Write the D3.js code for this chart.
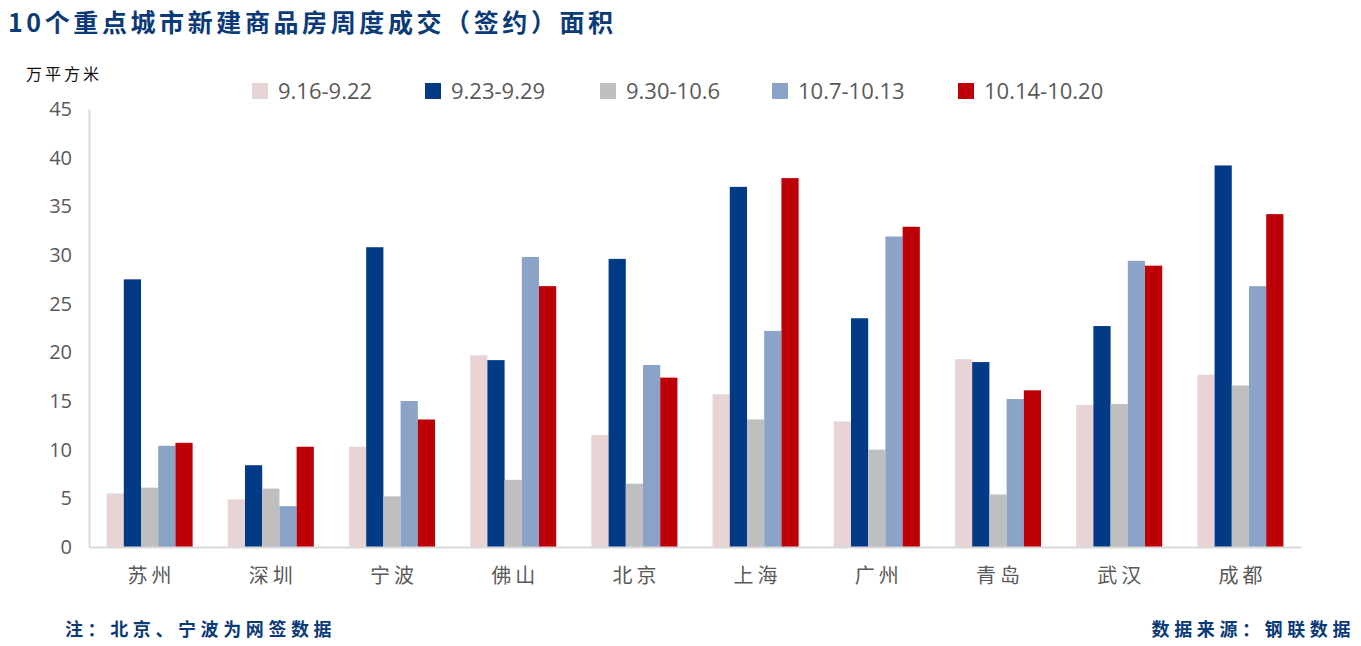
<!DOCTYPE html>
<html><head><meta charset="utf-8">
<script src="https://cdn.jsdelivr.net/npm/d3@7"></script>
<style>body{margin:0;background:#fff;}svg{display:block;}</style>
</head><body>
<svg id="c" width="1361" height="646"></svg>
<script>
const categories = ["苏州","深圳","宁波","佛山","北京","上海","广州","青岛","武汉","成都"];
const seriesNames = ["9.16-9.22","9.23-9.29","9.30-10.6","10.7-10.13","10.14-10.20"];
const s1 = [5.5, 4.9, 10.3, 19.7, 11.5, 15.7, 12.9, 19.3, 14.6, 17.7];
const s2 = [27.5, 8.4, 30.8, 19.2, 29.6, 37.0, 23.5, 19.0, 22.7, 39.2];
const s3 = [6.1, 6.0, 5.2, 6.9, 6.5, 13.1, 10.0, 5.4, 14.7, 16.6];
const s4 = [10.4, 4.2, 15.0, 29.8, 18.7, 22.2, 31.9, 15.2, 29.4, 26.8];
const s5 = [10.7, 10.3, 13.1, 26.8, 17.4, 37.9, 32.9, 16.1, 28.9, 34.2];
const seriesValues = [s1, s2, s3, s4, s5];
const yTicks = [0,5,10,15,20,25,30,35,40,45];
const colors = ["#E8D4D4","#023A86","#BFBFBF","#8AA3C6","#BD0008"];

const svg = d3.select("#c");
const mLeft = 89, mRight = 1301, mTop = 109, mBottom = 547;
const x = d3.scaleBand().domain(categories).range([mLeft, mRight]).paddingInner(0.29).paddingOuter(0.145);
const xs = d3.scaleBand().domain(d3.range(seriesNames.length)).range([0, x.bandwidth()]);
const y = d3.scaleLinear().domain([0,45]).range([mBottom, mTop]);

// title
svg.append("text").attr("x",8).attr("y",32).text("10个重点城市新建商品房周度成交（签约）面积")
  .attr("font-family","'Noto Sans CJK SC'").attr("font-weight","bold").attr("font-size",25).attr("fill","#0B3A78").attr("letter-spacing",3.6);
svg.append("text").attr("x",26).attr("y",80).text("万平方米")
  .attr("font-family","'Noto Sans CJK SC'").attr("font-size",16).attr("fill","#111").attr("letter-spacing",3);

// bars
seriesValues.forEach((vals, si) => {
  svg.append("g").selectAll("rect").data(vals).join("rect")
    .attr("x",(d,i)=>x(categories[i]) + xs(si))
    .attr("width", xs.bandwidth())
    .attr("y", d=>y(d))
    .attr("height", d=>y(0)-y(d))
    .attr("fill", colors[si]);
});

// y axis
const ya = svg.append("g").attr("transform",`translate(${mLeft},0)`)
  .call(d3.axisLeft(y).tickValues(yTicks).tickSize(0).tickPadding(17));
ya.select(".domain").attr("stroke","#D9D9D9").attr("stroke-width",2);
ya.selectAll("text").attr("font-family","'Open Sans', 'Liberation Sans'").attr("font-size",20).attr("fill","#595959");

// x axis
const xa = svg.append("g").attr("transform",`translate(0,${mBottom})`)
  .call(d3.axisBottom(x).tickSize(0).tickPadding(22));
xa.select(".domain").attr("stroke","#D9D9D9").attr("stroke-width",2);
xa.selectAll("text").attr("font-family","'Noto Sans CJK SC'").attr("font-size",20).attr("fill","#595959").attr("letter-spacing",4).attr("dx",2);

// legend
const legX = [252, 425, 600, 772, 958];
const lg = svg.append("g");
seriesNames.forEach((n,i)=>{
  lg.append("rect").attr("x",legX[i]).attr("y",83).attr("width",16).attr("height",16).attr("fill",colors[i]);
  lg.append("text").attr("x",legX[i]+26).attr("y",99).text(n)
    .attr("font-family","'Open Sans', 'Liberation Sans'").attr("font-size",22).attr("fill","#595959");
});

// footer
svg.append("text").attr("x",65).attr("y",636).text("注：北京、宁波为网签数据")
  .attr("font-family","'Noto Sans CJK SC'").attr("font-weight","bold").attr("font-size",18).attr("fill","#0B3A78").attr("letter-spacing",4.6);
svg.append("text").attr("x",1355).attr("y",636).attr("text-anchor","end").text("数据来源：钢联数据")
  .attr("font-family","'Noto Sans CJK SC'").attr("font-weight","bold").attr("font-size",18).attr("fill","#0B3A78").attr("letter-spacing",4.6);
</script>
</body></html>
